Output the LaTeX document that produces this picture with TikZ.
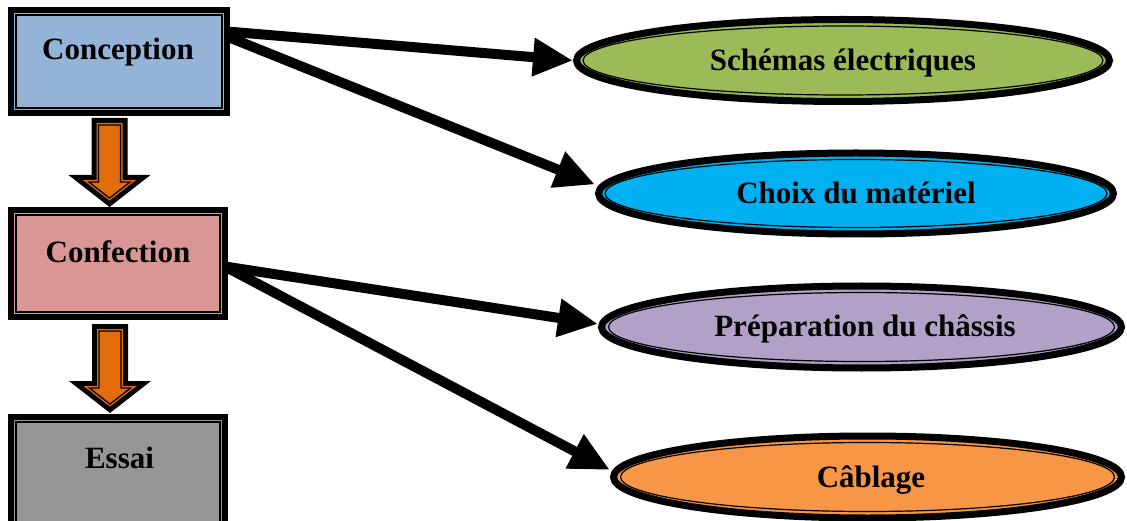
\documentclass[tikz,border=0pt]{standalone}
\usepackage{fontspec}
\setmainfont{Liberation Serif}
\usetikzlibrary{arrows.meta,shapes.geometric,calc}
\definecolor{conceptionfill}{HTML}{95B3D7}
\definecolor{confectionfill}{HTML}{D99694}
\definecolor{essaifill}{HTML}{969696}
\definecolor{schemafill}{HTML}{9BBB59}
\definecolor{choixfill}{HTML}{00B0F0}
\definecolor{prepfill}{HTML}{B2A1C7}
\definecolor{cablefill}{HTML}{F79646}
\definecolor{stepflow}{HTML}{E36C0A}
\begin{document}
\begin{tikzpicture}[x=1pt,y=-1pt,
  stage/.style={rectangle, draw=black, line width=6pt, inner sep=0pt, outer sep=0pt},
  inset/.style={draw=black, line width=1.4pt},
  task/.style={ellipse, draw=black, line width=7pt, inner sep=0pt},
  lbl/.style={anchor=base, inner sep=0pt, font=\fontsize{31}{36}\selectfont\bfseries},
  link/.style={line width=10pt, -{Triangle[length=40pt,width=36pt]}},
  blockarrow/.pic={
    \fill[black] (-18,-44.5) -- (18,-44.5) -- (18,12.5) -- (41,12.5) -- (0,44.5)
      -- (-41,12.5) -- (-18,12.5) -- cycle;
    \fill[stepflow] (-13,-39.5) -- (13,-39.5) -- (13,17.5) -- (26.5,17.5) -- (0,38.1)
      -- (-26.5,17.5) -- (-13,17.5) -- cycle;
    \draw[black, line width=1.3pt] (-11,-37.5) -- (11,-37.5) -- (11,19.5) -- (20.6,19.5)
      -- (0,35.6) -- (-20.6,19.5) -- (-11,19.5) -- cycle;
  }
]
\useasboundingbox[fill=white] (0,0) rectangle (1127,521);

% process stages
\node[stage, fill=conceptionfill, minimum width=216pt, minimum height=103pt] (c1) at (119,61.5) {};
\node[stage, fill=confectionfill, minimum width=214pt, minimum height=107pt] (c2) at (118,263.5) {};
\node[stage, fill=essaifill, minimum width=214pt, minimum height=110pt] (c3) at (118,472) {};
\foreach \n in {c1,c2,c3}
  \draw[inset] ([shift={(5,5)}]\n.north west) rectangle ([shift={(-5,-5)}]\n.south east);

\node[lbl] (t1) at (118,60) {Conception};
\node[lbl] (t2) at (118,263) {Confection};
\node[lbl] (t3) at (119.5,468) {Essai};

% flow between stages
\path ($(c1.south)!0.5!(c2.north)+(-9,1)$) pic {blockarrow};
\path ($(c2.south)!0.5!(c3.north)+(-8,1.5)$) pic {blockarrow};

% tasks
\node[task, fill=schemafill, minimum width=533pt, minimum height=82pt] (e1) at (843,60.5) {};
\node[task, fill=choixfill, minimum width=515pt, minimum height=81pt] (e2) at (856,193.5) {};
\node[task, fill=prepfill, minimum width=520pt, minimum height=82pt] (e3) at (861.5,327) {};
\node[task, fill=cablefill, minimum width=508pt, minimum height=82pt] (e4) at (867.5,477) {};
\draw[inset, line width=1.2pt] (e1.center) ellipse [x radius=260pt, y radius=34.5pt];
\draw[inset, line width=1.2pt] (e2.center) ellipse [x radius=251pt, y radius=34pt];
\draw[inset, line width=1.2pt] (e3.center) ellipse [x radius=253pt, y radius=34.5pt];
\draw[inset, line width=1.2pt] (e4.center) ellipse [x radius=247pt, y radius=34.5pt];

\node[lbl] (s1) at (843,71) {Schémas électriques};
\node[lbl] (s2) at (856,204) {Choix du matériel};
\node[lbl] (s3) at (865,337) {Préparation du châssis};
\node[lbl] (s4) at (871,487) {Câblage};

% links from stages to tasks
\draw[link] ([yshift=30pt]c1.east) -- (e1.west);
\draw[link] ([yshift=25pt]c1.east) -- ([yshift=9pt]e2.west);
\draw[link] ([yshift=-3pt]c2.east) -- ([yshift=3pt]e3.west);
\draw[link] ([yshift=-3pt]c2.east) -- ([yshift=7pt]e4.west);
\end{tikzpicture}
\end{document}
